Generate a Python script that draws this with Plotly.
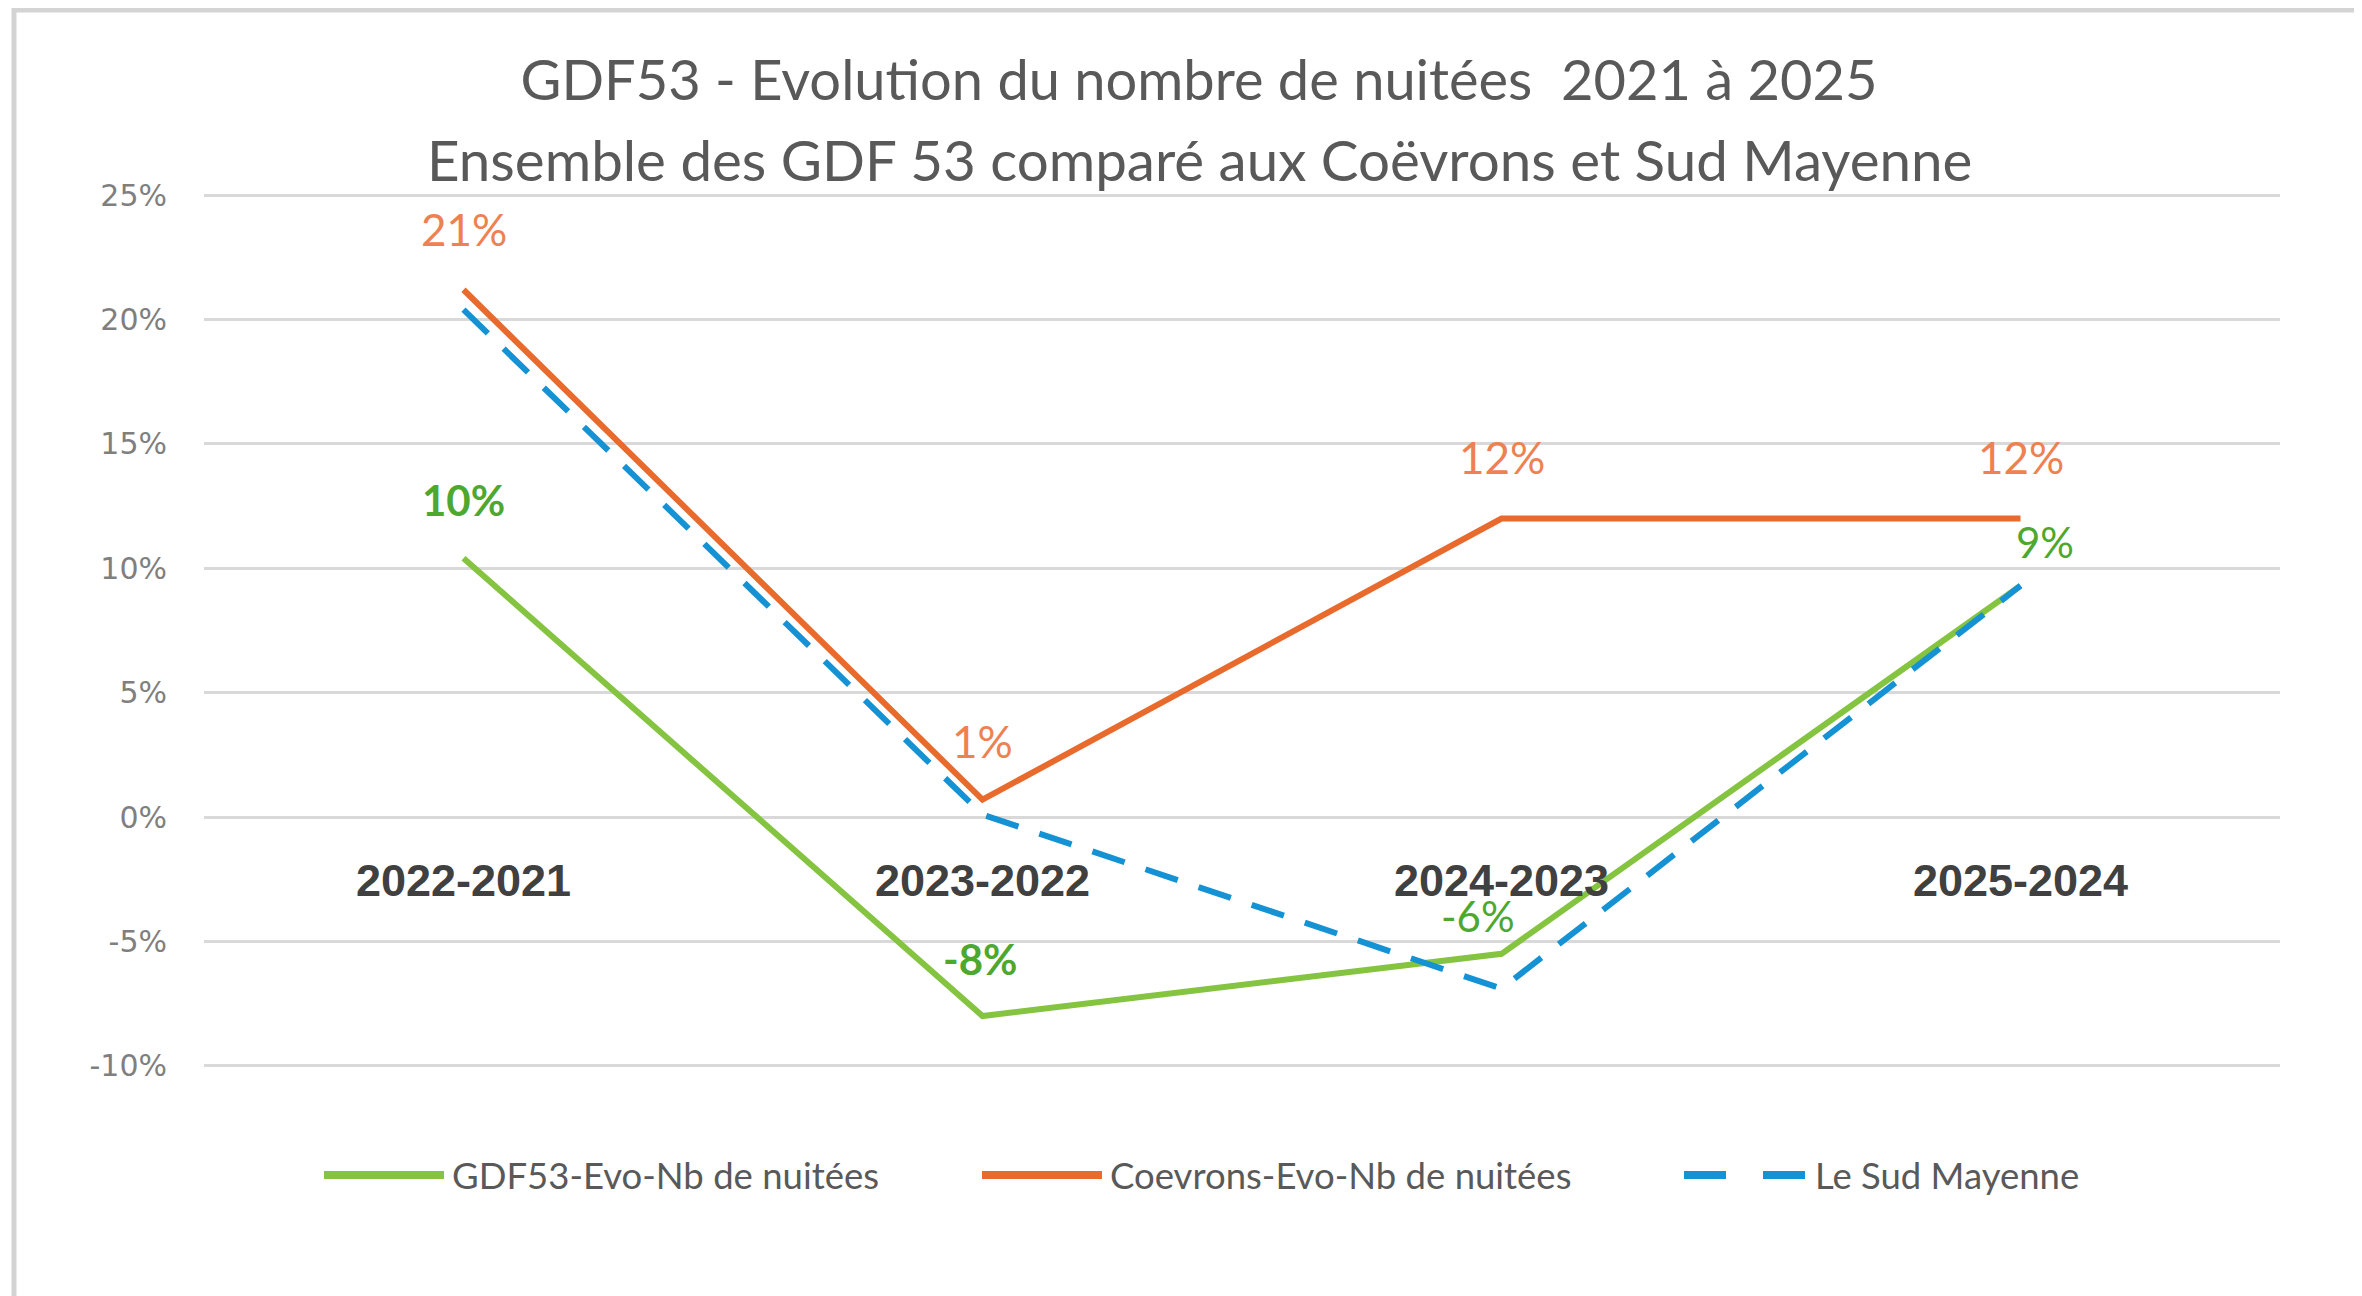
import plotly.graph_objects as go

# ---------------- data ----------------
categories = ["2022-2021", "2023-2022", "2024-2023", "2025-2024"]
gdf53 = [0.104, -0.080, -0.055, 0.093]
coevrons = [0.212, 0.007, 0.120, 0.120]
sud_mayenne = [0.204, 0.001, -0.069, 0.093]

series_names = ["GDF53-Evo-Nb de nuitées", "Coevrons-Evo-Nb de nuitées", "Le Sud Mayenne"]

y_tickvals = [-0.10, -0.05, 0.0, 0.05, 0.10, 0.15, 0.20, 0.25]
y_ticktext = ["-10%", "-5%", "0%", "5%", "10%", "15%", "20%", "25%"]

title_line1 = "GDF53 - Evolution du nombre de nuitées  2021 à 2025"
title_line2 = "Ensemble des GDF 53 comparé aux Coëvrons et Sud Mayenne"

# ---------------- styles / layout ----------------
GREEN = "#84C441"
GREEN_TXT = "#4EA72E"
ORANGE = "#E86A2C"
ORANGE_TXT = "#EE8151"
BLUE = "#1592D3"
GRID = "#D9D9D9"

OFF = 8                      # page body margin of the browser
W, H = 2362, 1296
# plot area in reference-pixel coordinates
PL, PR, PT, PB = 204, 2280, 194, 1067
L, T = PL - OFF, PT - OFF
R, B = W - (PR - OFF), H - (PB - OFF)
PW, PH = W - L - R, H - T - B


def px_x(px):
    """reference pixel x -> paper x"""
    return (px - OFF - L) / PW


def px_y(py):
    """reference pixel y -> paper y"""
    return (H - B - (py - OFF)) / PH


fig = go.Figure()

fig.add_trace(go.Scatter(x=categories, y=gdf53, mode="lines", name=series_names[0],
                         line=dict(color=GREEN, width=6), showlegend=False))
fig.add_trace(go.Scatter(x=categories, y=coevrons, mode="lines", name=series_names[1],
                         line=dict(color=ORANGE, width=6), showlegend=False))
fig.add_trace(go.Scatter(x=categories, y=sud_mayenne, mode="lines", name=series_names[2],
                         line=dict(color=BLUE, width=6, dash="34px,22px"), showlegend=False))

# data labels (text formatted from values)
orange_shift = [(0, 61), (0, 59), (0, 62), (0, 62)]
green_shift = [(0, 58), (-3, 57), (-24, 38), (24, 44)]
green_bold = [True, True, False, False]

for c, v, (dx, dy) in zip(categories, coevrons, orange_shift):
    fig.add_annotation(x=c, y=v, text=f"{v*100:.0f}%", showarrow=False,
                       xshift=dx, yshift=dy,
                       font=dict(family="Lato", size=44, color=ORANGE_TXT))
for c, v, (dx, dy), b in zip(categories, gdf53, green_shift, green_bold):
    t = f"{v*100:.0f}%"
    fig.add_annotation(x=c, y=v, text=f"<b>{t}</b>" if b else t, showarrow=False,
                       xshift=dx, yshift=dy,
                       font=dict(family="Lato", size=42, color=GREEN_TXT))

# custom legend (long line samples, as in the reference)
legend_colors = [GREEN, ORANGE, BLUE]
legend_dash = ["solid", "solid", "42px,37px"]
legend_sample_px = [(324, 444), (982, 1102), (1684, 1807)]
legend_y = px_y(1175)
for name, col, dash, (a, b) in zip(series_names, legend_colors, legend_dash, legend_sample_px):
    fig.add_shape(type="line", xref="paper", yref="paper",
                  x0=px_x(a), x1=px_x(b), y0=legend_y, y1=legend_y,
                  line=dict(color=col, width=8, dash=dash))
    fig.add_annotation(xref="paper", yref="paper", x=px_x(b + 6), y=legend_y,
                       xanchor="left", yanchor="middle", text=name, showarrow=False,
                       font=dict(family="Lato", size=36.5, color="#595959"))

# chart-area frame (top and left edges only are visible in the reference)
frame_style = dict(color="#D4D4D4", width=5)
fig.add_shape(type="line", xref="paper", yref="paper",
              x0=px_x(12), x1=px_x(2380), y0=px_y(10), y1=px_y(10), line=frame_style, layer="below")
fig.add_shape(type="line", xref="paper", yref="paper",
              x0=px_x(14), x1=px_x(14), y0=px_y(8), y1=px_y(1310), line=frame_style, layer="below")

# second title line
fig.add_annotation(xref="paper", yref="paper", x=px_x(1199), y=px_y(159),
                   xanchor="center", yanchor="middle", text=title_line2, showarrow=False,
                   font=dict(family="Lato", size=56.5, color="#595959"))

fig.update_layout(
    width=W, height=H,
    margin=dict(l=L, r=R, t=T, b=B, autoexpand=False),
    paper_bgcolor="white", plot_bgcolor="white",
    title=dict(text=title_line1, x=(1199 - OFF) / W, xref="container", xanchor="center",
               y=1 - (80 - OFF) / H, yref="container", yanchor="middle",
               font=dict(family="Lato", size=56, color="#595959")),
    xaxis=dict(type="category", range=[-0.5, 3.5], showgrid=False, showline=False,
               zeroline=False, anchor="free", position=10.05 / 35.1, ticks="",
               ticklabelstandoff=33,
               tickfont=dict(family="Liberation Sans", size=45, color="#404040", weight="bold")),
    yaxis=dict(range=[-0.1005, 0.2505], tickvals=y_tickvals, ticktext=y_ticktext,
               showgrid=True, gridcolor=GRID, gridwidth=3,
               zeroline=True, zerolinecolor=GRID, zerolinewidth=3,
               showline=False, ticks="", ticklabelstandoff=36,
               tickfont=dict(family="DejaVu Sans", size=30, color="#7F7F7F")),
    showlegend=False,
)

fig.write_html("out.html")
